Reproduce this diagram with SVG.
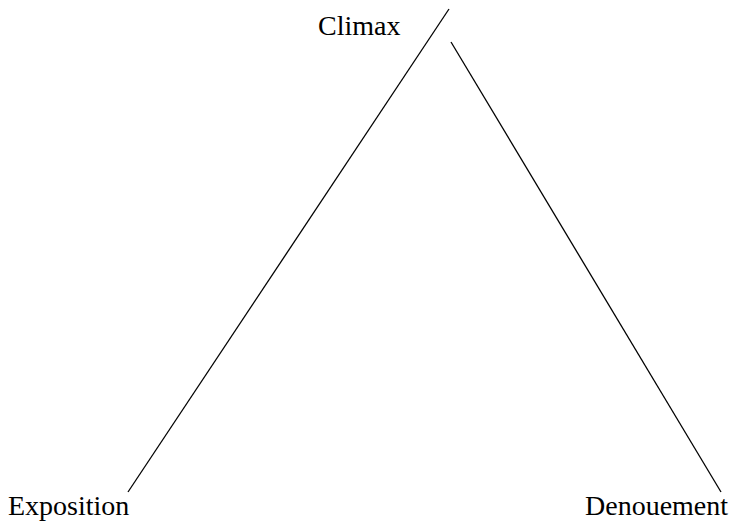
<svg xmlns="http://www.w3.org/2000/svg" width="733" height="522" viewBox="0 0 733 522">
<style>
.lbl{font-family:"Liberation Serif","Times New Roman",serif;font-size:28px;fill:#000}
.ln{stroke:#000;stroke-width:1.3;fill:none}
</style>
<rect width="733" height="522" fill="#fff"/>
<g id="connectors">
<line class="ln" x1="128" y1="492" x2="449" y2="9"/>
<line class="ln" x1="451" y1="42" x2="721" y2="492"/>
</g>
<g id="climax"><text class="lbl" x="318" y="35">Climax</text></g>
<g id="exposition"><text class="lbl" x="8" y="515">Exposition</text></g>
<g id="denouement"><text class="lbl" x="585" y="515">Denouement</text></g>
</svg>
